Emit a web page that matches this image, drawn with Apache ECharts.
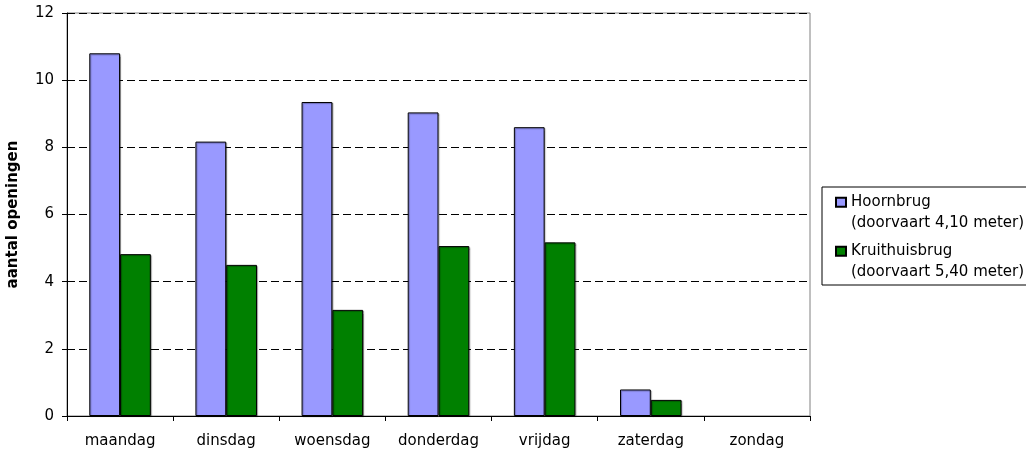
<!DOCTYPE html>
<html>
<head>
<meta charset="utf-8">
<title>Brugopeningen per dag</title>
<script src="https://cdn.jsdelivr.net/npm/echarts@6/dist/echarts.min.js"></script>
<style>
  html, body { margin: 0; padding: 0; background: #fff; }
  #chart { width: 1026px; height: 453px; }
</style>
</head>
<body>
<div id="chart"></div>
<script>
// Weekdays on the category axis
const days = ['maandag', 'dinsdag', 'woensdag', 'donderdag', 'vrijdag', 'zaterdag', 'zondag'];

// Average number of bridge openings per weekday
const hoornbrug = [10.8, 8.17, 9.35, 9.04, 8.6, 0.79, 0];
const kruithuisbrug = [4.82, 4.5, 3.16, 5.06, 5.17, 0.48, 0];

// Series names shown in the legend
const seriesNames = [
  'Hoornbrug\n(doorvaart 4,10 meter)',
  'Kruithuisbrug\n(doorvaart 5,40 meter)'
];

// Value axis ticks
const yMin = 0, yMax = 12, yStep = 2;
const yTitle = 'aantal openingen';

const FONT = 'DejaVu Sans';

// Legend swatch: a small square in the upper part of a tall, empty box,
// so it lines up with the first line of a two-line legend label
const swatch = 'path://M0,0L0,0M0,5.75L10,5.75L10,14.75L0,14.75ZM0,41L0,41';

const chart = echarts.init(document.getElementById('chart'), null, { renderer: 'canvas' });

const barStyle = (color) => ({
  color: color,
  borderColor: '#000',
  borderWidth: 1,
  shadowColor: 'rgba(0,0,0,0.3)',
  shadowOffsetX: 1,
  shadowOffsetY: 1,
  shadowBlur: 1
});

// Empty days get no outline, so nothing is drawn on the axis for them
const toBarData = (values) => values.map(v =>
  v === 0 ? { value: v, itemStyle: { borderWidth: 0, shadowColor: 'transparent' } } : v
);

chart.setOption({
  animation: false,
  backgroundColor: '#fff',
  textStyle: { fontFamily: FONT },
  grid: {
    left: 67, right: 216, top: 13, bottom: 37,
    outerBoundsMode: 'none',
    containLabel: false,
    show: true, borderColor: '#808080', borderWidth: 1, backgroundColor: 'transparent'
  },
  legend: {
    orient: 'vertical',
    left: 822, top: 187,
    padding: [4, 6, 2, 13],
    itemGap: 6,
    itemWidth: 10,
    itemHeight: 41,
    icon: swatch,
    borderColor: '#000',
    borderWidth: 1,
    backgroundColor: '#fff',
    textStyle: { fontFamily: FONT, fontSize: 15, lineHeight: 20.5, color: '#000' },
    data: seriesNames
  },
  xAxis: {
    type: 'category',
    data: days,
    boundaryGap: true,
    axisLine: { lineStyle: { color: '#000', width: 1 } },
    axisTick: { show: true, alignWithLabel: false, length: 5, lineStyle: { color: '#000' } },
    axisLabel: { color: '#000', fontFamily: FONT, fontSize: 15, margin: 18, interval: 0 },
    splitLine: { show: false }
  },
  yAxis: {
    type: 'value',
    min: yMin, max: yMax, interval: yStep,
    name: yTitle,
    nameLocation: 'middle',
    nameGap: 46,
    nameRotate: 90,
    nameTextStyle: { color: '#000', fontFamily: FONT, fontSize: 15, fontWeight: 'bold' },
    axisLine: { show: true, lineStyle: { color: '#000', width: 1 } },
    axisTick: { show: true, length: 5, lineStyle: { color: '#000' } },
    axisLabel: { color: '#000', fontFamily: FONT, fontSize: 15, margin: 13 },
    splitLine: { show: true, lineStyle: { color: '#000', type: [8, 4], width: 1 } }
  },
  series: [
    {
      name: seriesNames[0],
      type: 'bar',
      data: toBarData(hoornbrug),
      barGap: '0%',
      barCategoryGap: '42%',
      itemStyle: barStyle('#9999FF')
    },
    {
      name: seriesNames[1],
      type: 'bar',
      data: toBarData(kruithuisbrug),
      barGap: '0%',
      barCategoryGap: '42%',
      itemStyle: barStyle('#008000')
    }
  ]
});
</script>
</body>
</html>
